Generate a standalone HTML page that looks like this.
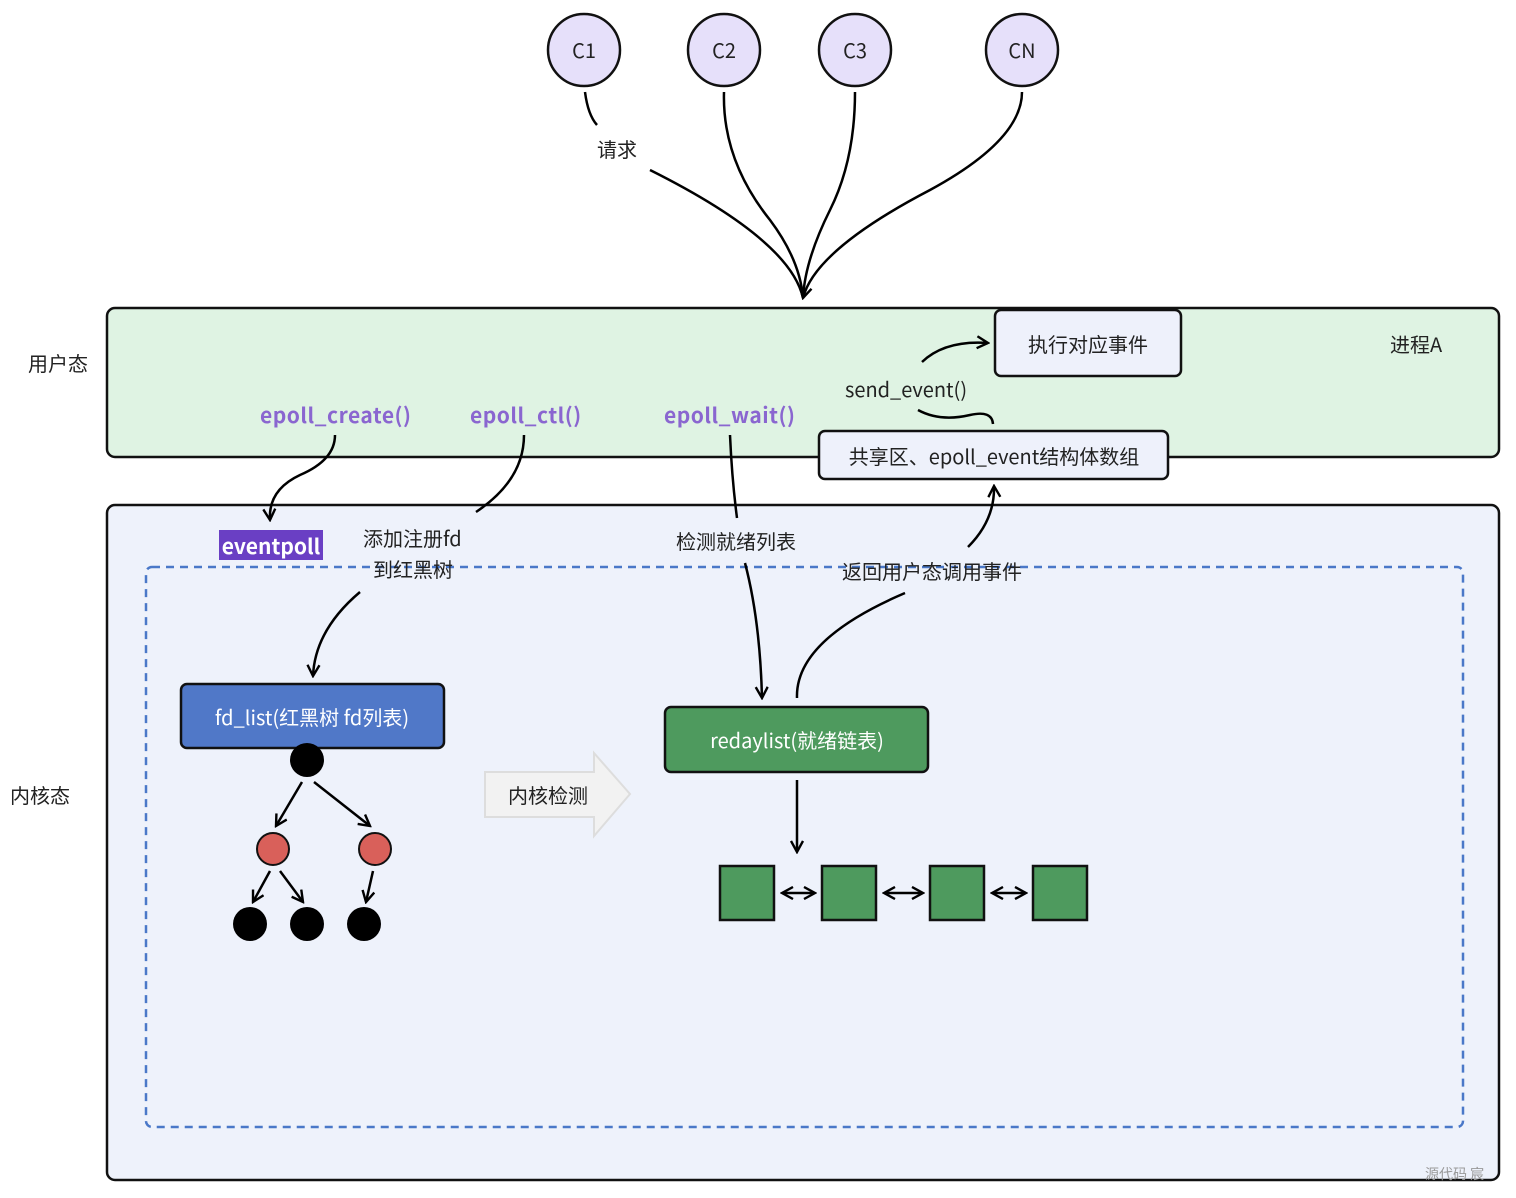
<!DOCTYPE html>
<html><head><meta charset="utf-8"><style>
body{margin:0;background:#fff;}
svg text{font-family:"Noto Sans CJK SC","Liberation Sans",sans-serif;}
</style></head><body>
<svg width="1516" height="1193" viewBox="0 0 1516 1193" xmlns="http://www.w3.org/2000/svg">
<defs>
<marker id="a" viewBox="0 0 14 14" refX="12" refY="7" markerWidth="14" markerHeight="14" markerUnits="userSpaceOnUse" orient="auto"><path d="M1,1 L12,7 L1,13" fill="none" stroke="#000" stroke-width="2.4"/></marker>
<marker id="as" viewBox="0 0 14 14" refX="2" refY="7" markerWidth="14" markerHeight="14" markerUnits="userSpaceOnUse" orient="auto"><path d="M13,1 L2,7 L13,13" fill="none" stroke="#000" stroke-width="2.4"/></marker>
</defs>
<g fill="#e6e0fa" stroke="#111" stroke-width="2.5">
<circle cx="584" cy="50" r="36"/><circle cx="724" cy="50" r="36"/><circle cx="855" cy="50" r="36"/><circle cx="1022" cy="50" r="36"/>
</g>
<g font-size="20" text-anchor="middle" fill="#222">
<text x="584" y="58">C1</text><text x="724" y="58">C2</text><text x="855" y="58">C3</text><text x="1022" y="58">CN</text>
</g>
<g fill="none" stroke="#000" stroke-width="2.5">
<path d="M585,92 Q588,115 597,125"/>
<path d="M650,170 Q790,240 803,298"/>
<path d="M724,92 Q722,160 770,220 Q800,260 803,298"/>
<path d="M855,92 Q855,160 830,210 Q805,260 803,298"/>
<path d="M1022,92 Q1022,140 930,190 Q815,250 803,298" marker-end="url(#a)"/>
</g>
<text x="617" y="157" font-size="20" text-anchor="middle" fill="#222">请求</text>
<rect x="107" y="308" width="1392" height="149" rx="8" fill="#dff3e3" stroke="#111" stroke-width="2.5"/>
<rect x="107" y="505" width="1392" height="675" rx="8" fill="#eef2fb" stroke="#111" stroke-width="2.5"/>
<rect x="146" y="567" width="1317" height="560" rx="6" fill="none" stroke="#4a78c8" stroke-width="2.5" stroke-dasharray="8,6"/>
<text x="28" y="371" font-size="20" fill="#222">用户态</text>
<text x="10" y="803" font-size="20" fill="#222">内核态</text>
<text x="1390" y="352" font-size="20" fill="#222">进程A</text>
<g font-size="21" font-weight="bold" fill="#8a66d0" letter-spacing="0.5">
<text x="260" y="423">epoll_create()</text><text x="470" y="423">epoll_ctl()</text><text x="664" y="423">epoll_wait()</text>
</g>
<rect x="995" y="310" width="186" height="66" rx="6" fill="#eef1fb" stroke="#111" stroke-width="2.5"/>
<text x="1088" y="352" font-size="20" text-anchor="middle" fill="#222">执行对应事件</text>
<rect x="819" y="431" width="349" height="48" rx="6" fill="#eef1fb" stroke="#111" stroke-width="2.5"/>
<text x="994" y="464" font-size="20" text-anchor="middle" fill="#222">共享区、epoll_event结构体数组</text>
<text x="845" y="397" font-size="20" fill="#222">send_event()</text>
<g fill="none" stroke="#000" stroke-width="2.5">
<path d="M922,362 Q945,340 988,343" marker-end="url(#a)"/>
<path d="M918,410 Q940,422 970,415 Q992,410 993,424"/>
<path d="M335,435 Q335,460 300,475 Q268,490 270,520" marker-end="url(#a)"/>
<path d="M524,435 Q524,480 476,512"/>
<path d="M730,435 Q732,480 737,518"/>
<path d="M745,563 Q760,620 762,698" marker-end="url(#a)"/>
<path d="M797,698 Q795,640 905,593"/>
<path d="M968,547 Q995,520 994,486" marker-end="url(#a)"/>
<path d="M360,592 Q315,630 313,676" marker-end="url(#a)"/>
</g>
<rect x="219" y="530" width="104" height="30" fill="#6a3fc4"/>
<text x="271" y="554" font-size="21" font-weight="bold" text-anchor="middle" fill="#fff">eventpoll</text>
<text x="363" y="546" font-size="20" fill="#222">添加注册fd</text>
<text x="373" y="577" font-size="20" fill="#222">到红黑树</text>
<text x="676" y="549" font-size="20" fill="#222">检测就绪列表</text>
<text x="842" y="579" font-size="20" fill="#222">返回用户态调用事件</text>
<rect x="181" y="684" width="263" height="64" rx="6" fill="#5078c8" stroke="#111" stroke-width="2.5"/>
<text x="312" y="725" font-size="20" text-anchor="middle" fill="#fff">fd_list(红黑树 fd列表)</text>
<circle cx="307" cy="760" r="17" fill="#000"/>
<circle cx="273" cy="849" r="16" fill="#d9605a" stroke="#111" stroke-width="2"/>
<circle cx="375" cy="849" r="16" fill="#d9605a" stroke="#111" stroke-width="2"/>
<circle cx="250" cy="924" r="17" fill="#000"/><circle cx="307" cy="924" r="17" fill="#000"/><circle cx="364" cy="924" r="17" fill="#000"/>
<g stroke="#000" stroke-width="2.5" fill="none">
<line x1="302" y1="782" x2="276" y2="826" marker-end="url(#a)"/>
<line x1="314" y1="782" x2="370" y2="826" marker-end="url(#a)"/>
<line x1="270" y1="871" x2="253" y2="902" marker-end="url(#a)"/>
<line x1="280" y1="871" x2="303" y2="902" marker-end="url(#a)"/>
<line x1="373" y1="871" x2="366" y2="902" marker-end="url(#a)"/>
</g>
<path d="M485,772 L594,772 L594,753 L630,794 L594,836 L594,817 L485,817 Z" fill="#f2f2f2" stroke="#ddd" stroke-width="2"/>
<text x="548" y="803" font-size="20" text-anchor="middle" fill="#222">内核检测</text>
<rect x="665" y="707" width="263" height="65" rx="6" fill="#4e9a5e" stroke="#111" stroke-width="2.5"/>
<text x="797" y="748" font-size="20" text-anchor="middle" fill="#fff">redaylist(就绪链表)</text>
<line x1="797" y1="780" x2="797" y2="852" stroke="#000" stroke-width="2.5" marker-end="url(#a)"/>
<g fill="#4e9a5e" stroke="#111" stroke-width="2.5">
<rect x="720" y="866" width="54" height="54"/><rect x="822" y="866" width="54" height="54"/><rect x="930" y="866" width="54" height="54"/><rect x="1033" y="866" width="54" height="54"/>
</g>
<g stroke="#000" stroke-width="2.5">
<line x1="782" y1="893" x2="815" y2="893" marker-start="url(#as)" marker-end="url(#a)"/>
<line x1="884" y1="893" x2="923" y2="893" marker-start="url(#as)" marker-end="url(#a)"/>
<line x1="992" y1="893" x2="1026" y2="893" marker-start="url(#as)" marker-end="url(#a)"/>
</g>
<text x="1425" y="1179" font-size="14" fill="#999">源代码 宸</text>
</svg>
</body></html>
